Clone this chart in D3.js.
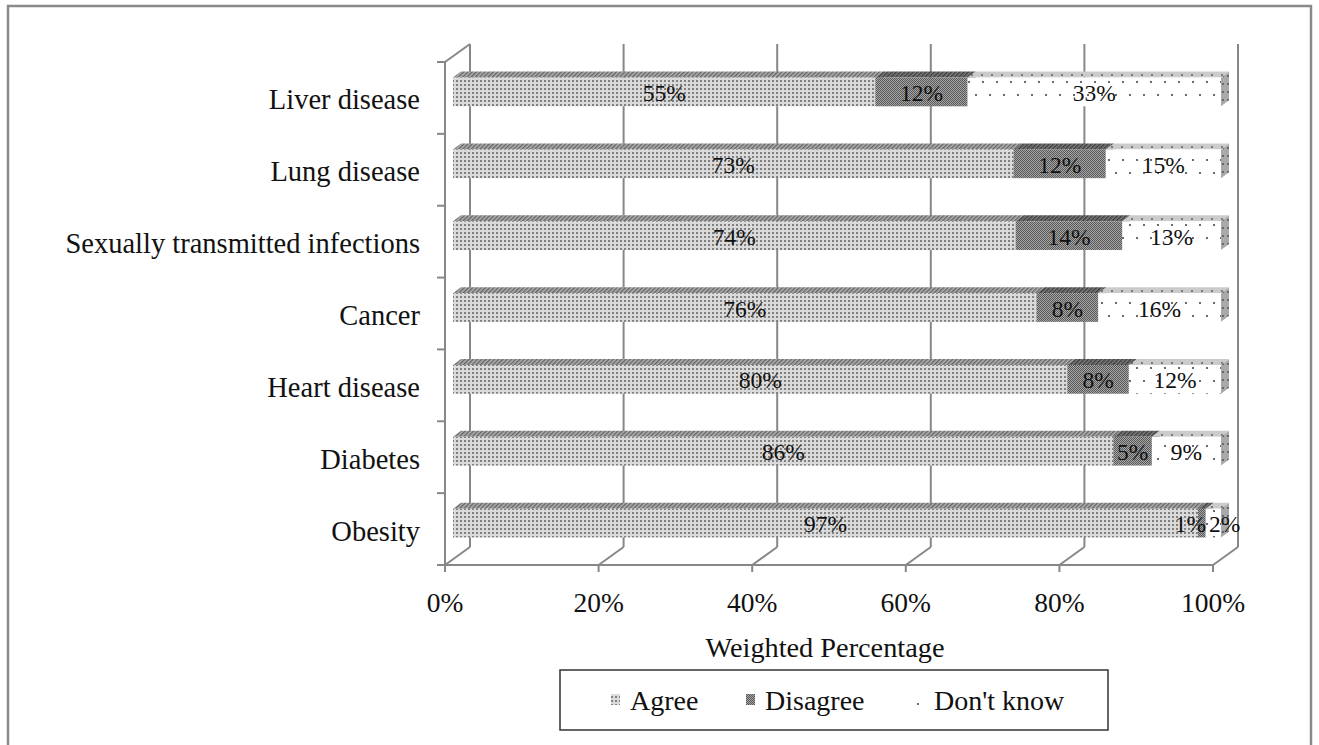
<!DOCTYPE html>
<html>
<head>
<meta charset="utf-8">
<script src="https://cdn.jsdelivr.net/npm/d3@7"></script>
<style>
  html, body { margin: 0; padding: 0; background: #fff; }
  svg { display: block; }
  text { font-family: "Liberation Serif", "Times New Roman", serif; fill: #111; }
</style>
</head>
<body>
<svg id="chart" width="1319" height="745"></svg>
<script>
// Survey responses per condition (weighted %), top row first
const categories = ["Liver disease", "Lung disease", "Sexually transmitted infections", "Cancer", "Heart disease", "Diabetes", "Obesity"];
const agree     = [55, 73, 74, 76, 80, 86, 97];
const disagree  = [12, 12, 14, 8, 8, 5, 1];
const dontKnow  = [33, 15, 13, 16, 12, 9, 2];
const seriesNames = ["Agree", "Disagree", "Don't know"];
const tickValues = [0, 0.2, 0.4, 0.6, 0.8, 1];

const rows = categories.map((c, i) => ({
  category: c, "Agree": agree[i], "Disagree": disagree[i], "Don't know": dontKnow[i]
}));

const svg = d3.select("#chart");

// outer frame
svg.append("rect")
  .attr("x", 8).attr("y", 6).attr("width", 1303).attr("height", 780)
  .attr("fill", "none").attr("stroke", "#8a8a8a").attr("stroke-width", 2.5);

// front-plane geometry and depth vector of the 3D box
const plot = { left: 445, right: 1213, top: 62, bottom: 565 };
const depth = { dx: 25, dy: -18 };
const barFront = { dx: 8, dy: -6 };   // bar front face offset from the front plane
const barDepth = { dx: 8, dy: -6 };   // bar thickness along the depth axis

const x = d3.scaleLinear().domain([0, 1]).range([plot.left, plot.right]);
const y = d3.scaleBand().domain(categories).range([plot.top, plot.bottom])
  .paddingInner(0.6).paddingOuter(0.3);

const lineColor = "#878787";

// ---------- patterns ----------
const defs = svg.append("defs");
function pat(id, w, h, build, transform) {
  const p = defs.append("pattern").attr("id", id)
    .attr("patternUnits", "userSpaceOnUse").attr("width", w).attr("height", h);
  if (transform) p.attr("patternTransform", transform);
  build(p);
}
pat("agreeFront", 4, 4, p => {
  p.append("rect").attr("width", 4).attr("height", 4).attr("fill", "#dadada");
  p.append("rect").attr("width", 2).attr("height", 2).attr("fill", "#808080");
});
pat("disagreeFront", 2, 2, p => {
  p.append("rect").attr("width", 2).attr("height", 2).attr("fill", "#a6a6a6");
  p.append("rect").attr("width", 1).attr("height", 1).attr("fill", "#585858");
  p.append("rect").attr("x", 1).attr("y", 1).attr("width", 1).attr("height", 1).attr("fill", "#585858");
});
pat("dontFront", 14, 26, p => {
  p.append("rect").attr("width", 14).attr("height", 26).attr("fill", "#ffffff");
  p.append("rect").attr("x", 2).attr("y", 3).attr("width", 2).attr("height", 2).attr("fill", "#6a6a6a");
  p.append("rect").attr("x", 9).attr("y", 16).attr("width", 2).attr("height", 2).attr("fill", "#6a6a6a");
});
pat("agreeTop", 3, 3, p => {
  p.append("rect").attr("width", 3).attr("height", 3).attr("fill", "#b0b0b0");
  p.append("rect").attr("width", 1.4).attr("height", 3).attr("fill", "#666");
}, "rotate(45)");
pat("disagreeTop", 3, 3, p => {
  p.append("rect").attr("width", 3).attr("height", 3).attr("fill", "#7a7a7a");
  p.append("rect").attr("width", 1.4).attr("height", 3).attr("fill", "#3e3e3e");
}, "rotate(45)");
pat("dontTop", 10, 6, p => {
  p.append("rect").attr("width", 10).attr("height", 6).attr("fill", "#cbcbcb");
  p.append("rect").attr("x", 1).attr("y", 2).attr("width", 2).attr("height", 2).attr("fill", "#7a7a7a");
});
pat("dontSide", 5, 8, p => {
  p.append("rect").attr("width", 5).attr("height", 8).attr("fill", "#a9a9a9");
  p.append("rect").attr("x", 2).attr("y", 3).attr("width", 2).attr("height", 2).attr("fill", "#6a6a6a");
});
pat("agreeSide", 3, 3, p => {
  p.append("rect").attr("width", 3).attr("height", 3).attr("fill", "#a0a0a0");
  p.append("rect").attr("width", 1.4).attr("height", 1.4).attr("fill", "#666");
});
pat("disagreeSide", 2, 2, p => {
  p.append("rect").attr("width", 2).attr("height", 2).attr("fill", "#6a6a6a");
  p.append("rect").attr("width", 1).attr("height", 1).attr("fill", "#333");
});
const fills = {
  "Agree":      { front: "url(#agreeFront)",    top: "url(#agreeTop)",    side: "url(#agreeSide)" },
  "Disagree":   { front: "url(#disagreeFront)", top: "url(#disagreeTop)", side: "url(#disagreeSide)" },
  "Don't know": { front: "url(#dontFront)",     top: "url(#dontTop)",     side: "url(#dontSide)" }
};

// ---------- walls and floor ----------
const walls = svg.append("g").attr("stroke", lineColor).attr("stroke-width", 2).attr("fill", "none");
// back-wall gridlines
walls.selectAll("line.grid").data(tickValues).join("line")
  .attr("x1", d => x(d) + depth.dx).attr("x2", d => x(d) + depth.dx)
  .attr("y1", plot.top + depth.dy).attr("y2", plot.bottom + depth.dy);
// floor lines running into the depth
walls.selectAll("line.floor").data(tickValues).join("line")
  .attr("x1", d => x(d)).attr("y1", plot.bottom)
  .attr("x2", d => x(d) + depth.dx).attr("y2", plot.bottom + depth.dy);
// side wall top edge
walls.append("line")
  .attr("x1", plot.left).attr("y1", plot.top)
  .attr("x2", plot.left + depth.dx).attr("y2", plot.top + depth.dy);
// category axis (front-left) and value axis (front-bottom)
walls.append("line")
  .attr("x1", plot.left).attr("x2", plot.left).attr("y1", plot.top).attr("y2", plot.bottom);
walls.append("line")
  .attr("x1", plot.left - 8).attr("x2", plot.right).attr("y1", plot.bottom).attr("y2", plot.bottom);
// category tick marks at band boundaries
const step = y.step();
walls.selectAll("line.ctick").data(d3.range(categories.length + 1)).join("line")
  .attr("x1", plot.left - 8).attr("x2", plot.left)
  .attr("y1", k => plot.top + k * step).attr("y2", k => plot.top + k * step);
// value tick marks
walls.selectAll("line.vtick").data(tickValues).join("line")
  .attr("x1", d => x(d)).attr("x2", d => x(d))
  .attr("y1", plot.bottom).attr("y2", plot.bottom + 7);

// ---------- stacked 3D bars (100% stacked) ----------
const stack = d3.stack().keys(seriesNames).offset(d3.stackOffsetExpand);
const stacked = stack(rows);

const bars = svg.append("g");
const labelLayer = svg.append("g");
const pts = a => a.map(p => p.join(",")).join(" ");

rows.forEach((row, ri) => {
  const yTop = y(row.category) + barFront.dy;
  const yBot = yTop + y.bandwidth();
  const xo = barFront.dx;
  const g = bars.append("g");
  stacked.forEach(layer => {
    const seg = layer[ri];
    const x0 = x(seg[0]) + xo, x1 = x(seg[1]) + xo;
    const f = fills[layer.key];
    // right end face
    g.append("polygon")
      .attr("points", pts([[x1, yTop], [x1 + barDepth.dx, yTop + barDepth.dy],
                           [x1 + barDepth.dx, yBot + barDepth.dy], [x1, yBot]]))
      .attr("fill", f.side);
    // top face
    g.append("polygon")
      .attr("points", pts([[x0, yTop], [x1, yTop], [x1 + barDepth.dx, yTop + barDepth.dy],
                           [x0 + barDepth.dx, yTop + barDepth.dy]]))
      .attr("fill", f.top);
    // front face
    g.append("rect")
      .attr("x", x0).attr("y", yTop).attr("width", Math.max(0, x1 - x0)).attr("height", y.bandwidth())
      .attr("fill", f.front);
  });

  // value labels centred on each segment's front face, nudged apart if they collide
  const labels = stacked.map(layer => {
    const seg = layer[ri];
    const cx = (x(seg[0]) + x(seg[1])) / 2 + xo;
    const t = labelLayer.append("text")
      .attr("x", cx).attr("y", (yTop + yBot) / 2 + 1)
      .attr("text-anchor", "middle").attr("dominant-baseline", "central")
      .attr("font-size", 23.5)
      .text(row[layer.key] + "%");
    return { t, cx, w: t.node().getComputedTextLength() };
  });
  for (let i = 1; i < labels.length; i++) {
    const a = labels[i - 1], b = labels[i];
    const overlap = (a.cx + a.w / 2 + 3) - (b.cx - b.w / 2);
    if (overlap > 0) {
      a.cx -= overlap / 2; b.cx += overlap / 2;
      a.t.attr("x", a.cx); b.t.attr("x", b.cx);
    }
  }
});

// ---------- axis labels ----------
svg.append("g").selectAll("text").data(categories).join("text")
  .attr("x", 420).attr("y", d => y(d) + y.bandwidth() / 2 + 2)
  .attr("text-anchor", "end").attr("dominant-baseline", "central")
  .attr("font-size", 28.5)
  .text(d => d);

const fmt = d3.format(".0%");
svg.append("g").selectAll("text").data(tickValues).join("text")
  .attr("x", d => x(d)).attr("y", plot.bottom + 37)
  .attr("text-anchor", "middle").attr("dominant-baseline", "central")
  .attr("font-size", 27.5)
  .text(d => fmt(d));

svg.append("text")
  .attr("x", 825).attr("y", 647)
  .attr("text-anchor", "middle").attr("dominant-baseline", "central")
  .attr("font-size", 28.3)
  .text("Weighted Percentage");

// ---------- legend ----------
const legend = svg.append("g");
legend.append("rect")
  .attr("x", 560).attr("y", 670).attr("width", 548).attr("height", 60)
  .attr("fill", "#fff").attr("stroke", "#333").attr("stroke-width", 1.5);
const legendX = [611, 746, 915];
const legendSwatch = { "Agree": "url(#agreeFront)", "Disagree": "url(#disagreeFront)", "Don't know": "url(#dontFront)" };
seriesNames.forEach((name, i) => {
  const g = legend.append("g").attr("transform", `translate(${legendX[i]},700)`);
  g.append("rect").attr("x", 0).attr("y", -6).attr("width", 9).attr("height", 11)
    .attr("fill", legendSwatch[name]);
  g.append("text").attr("x", 19).attr("y", 0)
    .attr("dominant-baseline", "central").attr("font-size", 28)
    .text(name);
});
</script>
</body>
</html>
